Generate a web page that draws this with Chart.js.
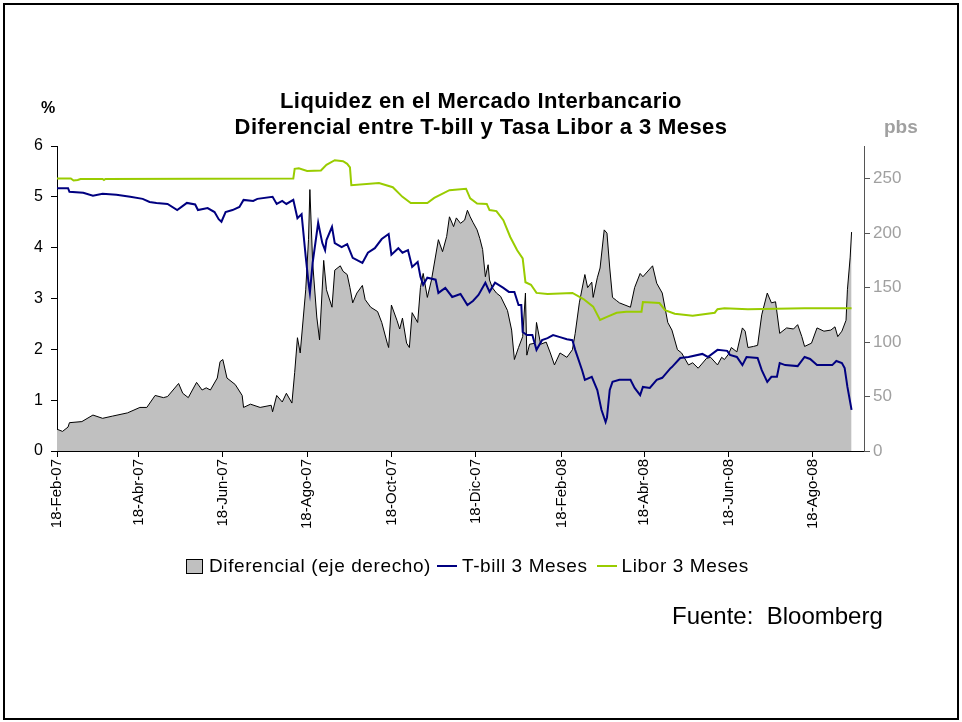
<!DOCTYPE html>
<html>
<head>
<meta charset="utf-8">
<script src="https://cdn.jsdelivr.net/npm/chart.js@4/dist/chart.umd.min.js"></script>
<style>
  body { margin: 0; background: #fff; font-family: Arial, 'Liberation Sans', sans-serif; }
  #wrap { position: relative; width: 962px; height: 722px; overflow: hidden; }
  #frame { position: absolute; left: 3px; top: 3px; width: 952px; height: 713px; border: 2px solid #000; }
  canvas { position: absolute; left: 0; top: 0; }
  .txt { position: absolute; white-space: nowrap; }
  .title { left: 0; width: 962px; text-align: center; font-weight: bold; font-size: 22px; letter-spacing: 0.4px; color: #000; }
  #legend { position: absolute; left: 186px; top: 555px; display: flex; align-items: center; font-size: 19px; letter-spacing: 0.6px; color: #000; }
  #legend .box { width: 15px; height: 13px; background: #c0c0c0; border: 1px solid #000; margin-right: 6px; }
  #legend .ln { width: 20px; height: 2px; margin: 0 5px 0 6px; }
</style>
</head>
<body>
<div id="wrap">
  <canvas id="chart" width="962" height="722"></canvas>
  <div id="frame"></div>
  <div class="txt title" style="top:88px">Liquidez en el Mercado Interbancario</div>
  <div class="txt title" style="top:114px">Diferencial entre T-bill y Tasa Libor a 3 Meses</div>
  <div class="txt" style="left:41px;top:99px;font-weight:bold;font-size:16px">%</div>
  <div class="txt" style="left:884px;top:116px;font-weight:bold;font-size:19px;color:#a0a0a0">pbs</div>
  <div id="legend">
    <div class="box"></div><span>Diferencial (eje derecho)</span>
    <div class="ln" style="background:#000080"></div><span>T-bill 3 Meses</span>
    <div class="ln" style="background:#99cc00;margin-left:9px"></div><span>Libor 3 Meses</span>
  </div>
  <div class="txt" style="left:672px;top:602px;font-size:24px">Fuente:&nbsp; Bloomberg</div>
</div>
<script>
// x values are days counted from 18-Feb-07
const tickDays = [0, 59, 120, 181, 242, 303, 365, 425, 486, 547];
const tickLabels = ['18-Feb-07', '18-Abr-07', '18-Jun-07', '18-Ago-07', '18-Oct-07',
  '18-Dic-07', '18-Feb-08', '18-Abr-08', '18-Jun-08', '18-Ago-08'];

// Diferencial (pbs, right axis)
const diffDays = [0, 4, 8, 9, 18, 26, 33, 40, 51, 60, 65, 71, 77, 80, 88, 91, 95, 101, 105, 108,
  111, 116, 118, 120, 123, 129, 134, 135, 140, 147, 155, 156, 159, 163, 166, 170, 172, 174, 176, 180,
  182, 183, 185, 188, 190, 193, 195, 199, 201, 205, 207, 210, 212, 214, 217, 221, 223, 227, 232, 235,
  239, 240, 242, 246, 248, 250, 253, 255, 257, 261, 263, 265, 268, 271, 276, 279, 282, 284, 287, 289,
  292, 295, 297, 299, 301, 304, 306, 308, 310, 312, 313, 315, 318, 321, 326, 329, 331, 334, 337, 339,
  340, 342, 346, 347, 350, 354, 357, 360, 364, 369, 373, 375, 378, 382, 384, 387, 388, 391, 393, 396,
  398, 400, 402, 405, 407, 411, 415, 418, 422, 424, 431, 434, 438, 442, 445, 449, 452, 457, 460, 464,
  470, 473, 478, 481, 483, 486, 488, 492, 496, 498, 500, 504, 507, 510, 514, 517, 520, 523, 528, 533,
  536, 539, 541, 546, 550, 555, 560, 563, 565, 568, 571, 572, 574, 575];
const diffValues = [20, 18, 22, 26, 27, 33, 30, 32, 35, 40, 40, 51, 49, 50, 62, 53, 49, 63, 56, 58,
  56, 67, 82, 84, 67, 61, 51, 40, 43, 40, 42, 36, 51, 45, 53, 44, 72, 104, 90, 148,
  194, 240, 173, 123, 102, 175, 148, 132, 166, 170, 165, 162, 150, 136, 145, 152, 139, 132, 128, 118,
  99, 95, 134, 120, 112, 122, 99, 95, 127, 118, 150, 163, 141, 157, 194, 183, 197, 215, 206, 214,
  209, 212, 221, 215, 210, 203, 195, 185, 160, 171, 157, 150, 145, 142, 129, 111, 84, 95, 105, 145,
  88, 98, 99, 118, 98, 100, 90, 79, 90, 86, 93, 108, 136, 162, 150, 155, 141, 159, 168, 203,
  200, 168, 141, 138, 136, 134, 132, 150, 163, 160, 170, 154, 145, 118, 111, 93, 90, 79, 81, 76,
  85, 86, 79, 86, 84, 89, 95, 91, 113, 110, 95, 96, 97, 125, 145, 136, 137, 108, 113, 112,
  116, 105, 96, 99, 113, 110, 111, 114, 105, 110, 120, 148, 178, 201];

// T-bill 3 Meses (%)
const tbillDays = [0, 8, 9, 19, 26, 33, 43, 53, 62, 67, 72, 80, 87, 94, 100, 102, 109, 114, 117, 119,
  122, 127, 132, 135, 142, 145, 156, 159, 163, 166, 171, 174, 177, 180, 182, 183, 185, 189, 192, 194,
  195, 199, 201, 206, 210, 214, 221, 225, 230, 235, 240, 242, 247, 250, 254, 257, 261, 263, 265, 268,
  274, 276, 281, 286, 290, 292, 297, 301, 305, 310, 313, 317, 323, 327, 331, 334, 336, 337, 340, 344,
  347, 351, 355, 359, 364, 369, 373, 375, 380, 382, 387, 391, 394, 397, 398, 400, 402, 407, 415, 418,
  422, 424, 429, 434, 438, 444, 445, 451, 457, 467, 471, 478, 485, 487, 492, 496, 499, 507, 510, 514,
  517, 521, 523, 527, 536, 541, 545, 550, 554, 561, 564, 568, 570, 572, 575];
const tbillValues = [5.17, 5.17, 5.10, 5.08, 5.02, 5.06, 5.04, 5.00, 4.96, 4.90, 4.88, 4.86, 4.74, 4.88, 4.85, 4.74, 4.78, 4.70, 4.56, 4.51,
  4.70, 4.74, 4.80, 4.94, 4.92, 4.96, 5.00, 4.86, 4.92, 4.86, 4.94, 4.58, 4.66, 3.82, 3.31, 3.11, 3.70, 4.49, 4.09, 3.95,
  4.15, 4.41, 4.09, 4.01, 4.07, 3.80, 3.70, 3.90, 3.99, 4.17, 4.27, 3.86, 3.99, 3.90, 3.95, 3.62, 3.72, 3.43, 3.27, 3.41,
  3.37, 3.11, 3.21, 3.03, 3.07, 3.09, 2.87, 2.95, 3.07, 3.31, 3.13, 3.31, 3.21, 3.13, 3.13, 2.87, 2.87, 2.34, 2.28, 2.28,
  1.99, 2.18, 2.22, 2.28, 2.24, 2.20, 2.18, 1.99, 1.59, 1.40, 1.46, 1.20, 0.81, 0.57, 0.66, 1.20, 1.36, 1.40, 1.40, 1.24,
  1.10, 1.26, 1.24, 1.40, 1.44, 1.63, 1.65, 1.83, 1.85, 1.91, 1.85, 1.99, 1.97, 1.89, 1.85, 1.69, 1.85, 1.83, 1.59, 1.36,
  1.46, 1.46, 1.73, 1.69, 1.67, 1.85, 1.81, 1.69, 1.69, 1.69, 1.77, 1.73, 1.63, 1.26, 0.81];

// Libor 3 Meses (%)
const liborDays = [0, 10, 12, 15, 17, 33, 34, 35, 171, 172, 175, 181, 191, 195, 201, 207, 210, 212, 213, 233,
  243, 250, 256, 268, 273, 284, 296, 299, 304, 311, 313, 318, 323, 328, 333, 337, 339, 343, 347, 355,
  373, 381, 388, 393, 398, 405, 412, 423, 424, 436, 440, 447, 460, 476, 478, 483, 500, 541, 575];
const liborValues = [5.36, 5.36, 5.32, 5.33, 5.35, 5.35, 5.33, 5.35, 5.36, 5.55, 5.56, 5.51, 5.52, 5.63, 5.72, 5.70, 5.65, 5.58, 5.23, 5.27,
  5.19, 5.00, 4.88, 4.88, 4.98, 5.13, 5.16, 4.97, 4.87, 4.86, 4.74, 4.72, 4.54, 4.21, 3.95, 3.79, 3.32, 3.27, 3.11, 3.09,
  3.11, 2.99, 2.84, 2.58, 2.64, 2.72, 2.74, 2.74, 2.93, 2.91, 2.77, 2.70, 2.66, 2.72, 2.79, 2.81, 2.79, 2.81, 2.81];

const toPoints = (xs, ys) => xs.map((x, i) => ({ x: x, y: ys[i] }));
const font = { family: "Arial, 'Liberation Sans', sans-serif", size: 15 };

const ctx = document.getElementById('chart').getContext('2d');
new Chart(ctx, {
  type: 'line',
  data: {
    datasets: [
      {
        label: 'T-bill 3 Meses',
        data: toPoints(tbillDays, tbillValues),
        borderColor: '#000080',
        borderWidth: 2,
        yAxisID: 'y',
        order: 1
      },
      {
        label: 'Libor 3 Meses',
        data: toPoints(liborDays, liborValues),
        borderColor: '#99cc00',
        borderWidth: 2,
        yAxisID: 'y',
        order: 2
      },
      {
        label: 'Diferencial (eje derecho)',
        data: toPoints(diffDays, diffValues),
        borderColor: '#000',
        borderWidth: 1,
        backgroundColor: '#c0c0c0',
        fill: 'origin',
        yAxisID: 'y1',
        order: 3
      }
    ]
  },
  options: {
    responsive: false,
    animation: false,
    devicePixelRatio: 1,
    elements: { point: { radius: 0 }, line: { tension: 0 } },
    layout: { padding: { top: 146, left: 0, right: 0, bottom: 0 } },
    plugins: { legend: { display: false }, tooltip: { enabled: false } },
    scales: {
      x: {
        type: 'linear',
        min: 0,
        max: 584,
        afterBuildTicks: s => { s.ticks = tickDays.map(v => ({ value: v })); },
        afterFit: s => { s.height = 271; },
        ticks: {
          autoSkip: false,
          minRotation: 90,
          maxRotation: 90,
          padding: 2,
          color: '#000',
          font: font,
          callback: v => tickLabels[tickDays.indexOf(v)]
        },
        grid: { drawOnChartArea: false, drawTicks: true, tickLength: 6, color: '#000' },
        border: { color: '#000', width: 1 }
      },
      y: {
        position: 'left',
        min: 0,
        max: 6,
        afterBuildTicks: s => { s.ticks = [0, 1, 2, 3, 4, 5, 6].map(v => ({ value: v })); },
        afterFit: s => { s.width = 57; },
        ticks: { color: '#000', font: { family: font.family, size: 16 }, padding: 8 },
        grid: { drawOnChartArea: false, drawTicks: true, tickLength: 6, color: '#000' },
        border: { color: '#000', width: 1 }
      },
      y1: {
        position: 'right',
        min: 0,
        max: 280,
        afterBuildTicks: s => { s.ticks = [0, 50, 100, 150, 200, 250].map(v => ({ value: v })); },
        afterFit: s => { s.width = 98; },
        ticks: { color: '#a0a0a0', font: { family: font.family, size: 17 }, padding: 3 },
        grid: { drawOnChartArea: false, drawTicks: true, tickLength: 6, color: '#555' },
        border: { color: '#555', width: 1 }
      }
    }
  }
});
</script>
</body>
</html>
